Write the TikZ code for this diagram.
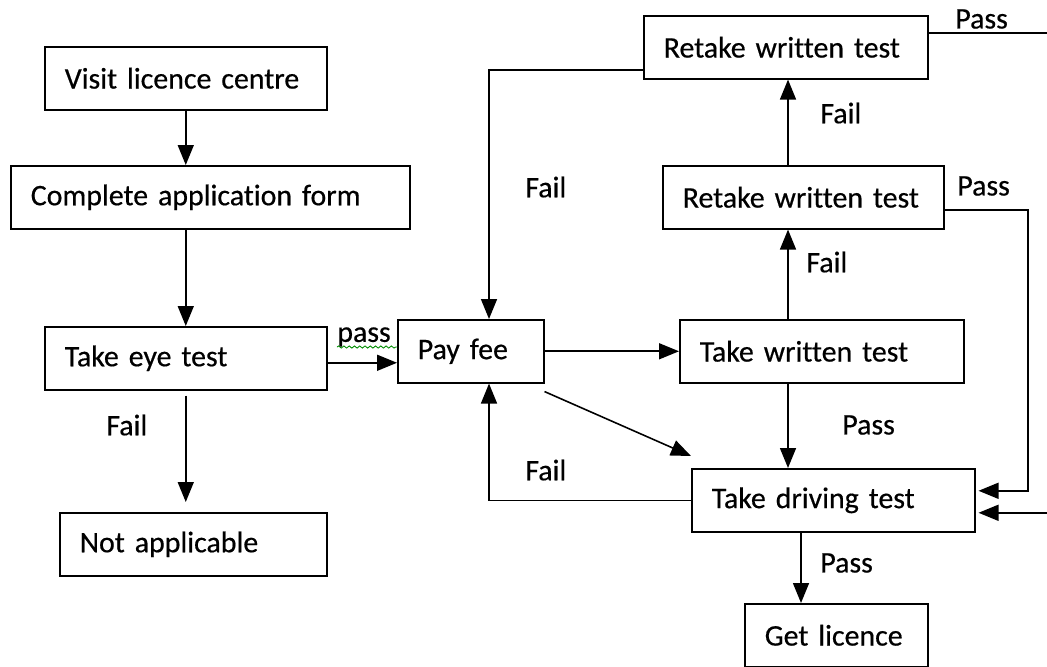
\documentclass[tikz,border=0pt]{standalone}
\usepackage{fontspec}
\setmainfont{Carlito}[Ligatures=NoCommon,WordSpace=0.75,FakeBold=0.5]
\usetikzlibrary{arrows.meta,decorations.pathmorphing}

\begin{document}
\begin{tikzpicture}[x=0.02cm,y=-0.02cm,>={Triangle[length=0.4cm,width=0.32cm]},
  font=\fontsize{17}{21}\selectfont,
  stage/.style={draw,line width=0.9pt,anchor=north west,inner xsep=0.4cm,inner ysep=0pt,minimum height=1.26cm,align=left},
  flow/.style={->,line width=0.9pt},
  lbl/.style={anchor=west,inner sep=0pt},
  wavy/.style={draw=green!55!black,line width=0.5pt,decorate,decoration={snake,amplitude=0.6pt,segment length=3pt}}]
\useasboundingbox (0,0) rectangle (1047,666);
\node[stage,text width=4.84cm] (visit) at (44,46) {Visit licence centre};
\node[stage,text width=7.18cm] (form) at (10,165) {Complete application form};
\node[stage,text width=4.84cm] (eye) at (44,326) {Take eye test};
\node[stage,text width=4.54cm] (na) at (59,512) {Not applicable};
\node[stage,text width=2.12cm] (pay) at (397,319) {Pay fee};
\node[stage,text width=4.88cm] (written) at (679,319) {Take written test};
\node[stage,text width=4.82cm] (rmid) at (662,165) {Retake written test};
\node[stage,text width=4.88cm] (rtop) at (643,15) {Retake written test};
\node[stage,text width=4.86cm] (drive) at (691,468) {Take driving test};
\node[stage,text width=2.86cm] (get) at (744,603) {Get licence};

\coordinate (col) at (788,0);
\coordinate (col2) at (801,0);
\coordinate (lp) at (489,0);
\coordinate (rp) at (1028,0);
\coordinate (ep) at (1070,0);
\coordinate (uin) at ([yshift=0.19cm]drive.east);
\coordinate (lin) at ([yshift=-0.25cm]drive.east);

\draw[flow] (visit.south) -- (visit.south |- form.north);
\draw[flow] (eye.north |- form.south) -- (eye.north);
\draw[flow,shorten <=0.1cm,shorten >=0.2cm] (eye.south) -- (eye.south |- na.north);
\draw[flow] ([yshift=-0.09cm]eye.east) -- ([yshift=-0.09cm]eye.east -| pay.west);
\draw[flow] (pay.east) -- (written.west);
\draw[flow] ([yshift=-0.16cm]pay.south east) -- ([yshift=0.24cm]drive.north west);
\draw[flow] (col |- written.north) -- (col |- rmid.south);
\draw[flow] (col |- rmid.north) -- (col |- rtop.south);
\draw[flow] (col |- written.south) -- (col |- drive.north);
\draw[flow] (col2 |- drive.south) -- (col2 |- get.north);
\draw[flow] ([yshift=-0.45cm]rtop.west) -| (lp |- pay.north);
\draw[flow] (drive.west) -| (lp |- pay.south);
\draw[flow,shorten >=0.06cm] ([yshift=-0.25cm]rmid.east) -| (rp |- uin) -- (uin);
\draw[flow,shorten >=0.06cm] ([yshift=0.29cm]rtop.east) -| (ep |- lin) -- (lin);

\node[lbl] (pass0) at (337,337) {pass};
\draw[wavy] (pass0.south west) -- (pass0.south west -| pay.west);
\node[lbl] (fail0) at (106,425) {Fail};
\node[lbl] (fail1) at (525,187) {Fail};
\node[lbl] (fail2) at (525,470) {Fail};
\node[lbl] (fail3) at (820,113) {Fail};
\node[lbl] (fail4) at (806,262) {Fail};
\node[lbl] (pass1) at (955,19) {Pass};
\node[lbl] (pass2) at (957,186) {Pass};
\node[lbl] (pass3) at (842,425) {Pass};
\node[lbl] (pass4) at (820,563) {Pass};
\end{tikzpicture}
\end{document}
